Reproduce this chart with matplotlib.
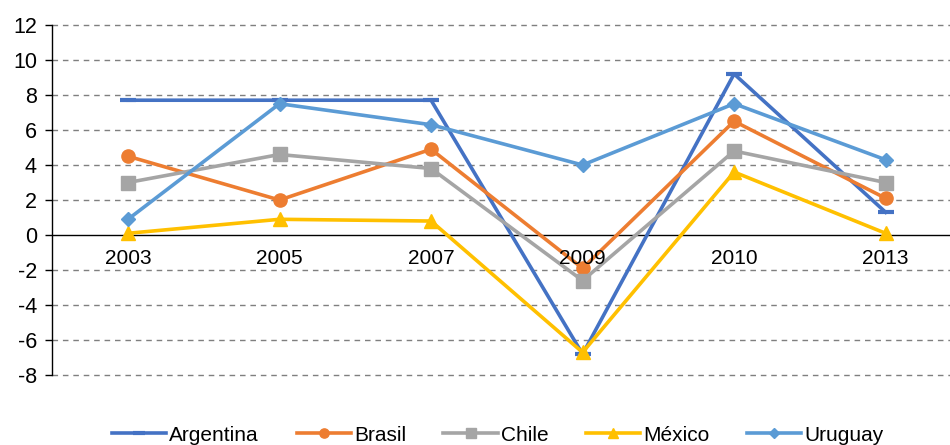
import numpy as np
import matplotlib.pyplot as plt

plt.rcParams['font.family'] = ['Liberation Sans', 'DejaVu Sans']
plt.rcParams['axes.unicode_minus'] = False

years = ['2003', '2005', '2007', '2009', '2010', '2013']
argentina = [7.7, 7.7, 7.7, -6.8, 9.2, 1.3]
brasil = [4.5, 2.0, 4.9, -1.9, 6.5, 2.1]
chile = [3.0, 4.6, 3.8, -2.6, 4.8, 3.0]
mexico = [0.1, 0.9, 0.8, -6.7, 3.6, 0.1]
uruguay = [0.9, 7.5, 6.3, 4.0, 7.5, 4.3]

series = [
    ('Argentina', argentina, '#4472C4', '_', 11.5),
    ('Brasil', brasil, '#ED7D31', 'o', 9.5),
    ('Chile', chile, '#A5A5A5', 's', 9.5),
    ('México', mexico, '#FFC000', '^', 10.5),
    ('Uruguay', uruguay, '#5B9BD5', 'D', 7),
]

fig = plt.figure(figsize=(9.5, 4.45), dpi=100)
ax = fig.add_axes([0.055, 0.157, 0.957, 0.787])

x = np.arange(len(years))

# dashed horizontal grid, solid zero line
for v in range(-8, 13, 2):
    if v == 0:
        ax.axhline(0, color='black', lw=1.0, zorder=1)
    else:
        ax.axhline(v, color='#7f7f7f', lw=1.0, ls=(0, (4, 3.5)), zorder=0,
                   clip_on=False)

for name, vals, color, mk, ms in series:
    mew = 3 if mk == '_' else 1
    ax.plot(x, vals, color=color, lw=2.6, marker=mk, markersize=ms,
            markerfacecolor=color, markeredgecolor=color, markeredgewidth=mew,
            label=name, zorder=3)

ax.set_xlim(-0.5, len(years) - 0.5)
ax.set_ylim(-8, 12)
ax.set_yticks(range(-8, 13, 2))
ax.tick_params(axis='y', labelsize=15.5, length=5, width=1, direction='out', pad=6)
ax.set_xticks([])

# category labels sit just under the zero line
for i, yr in enumerate(years):
    ax.text(i, -1.35, yr, ha='center', va='center', fontsize=15)

for side in ['top', 'right', 'bottom']:
    ax.spines[side].set_visible(False)
ax.spines['left'].set_linewidth(1.0)

handles, labels = ax.get_legend_handles_labels()
fig.legend(handles, labels, loc='center', bbox_to_anchor=(0.524, 0.022),
           ncol=5, frameon=False, fontsize=15, handlelength=2.6,
           handletextpad=0.15, columnspacing=1.8, markerscale=0.7)

fig.savefig('out.png', dpi=100)
